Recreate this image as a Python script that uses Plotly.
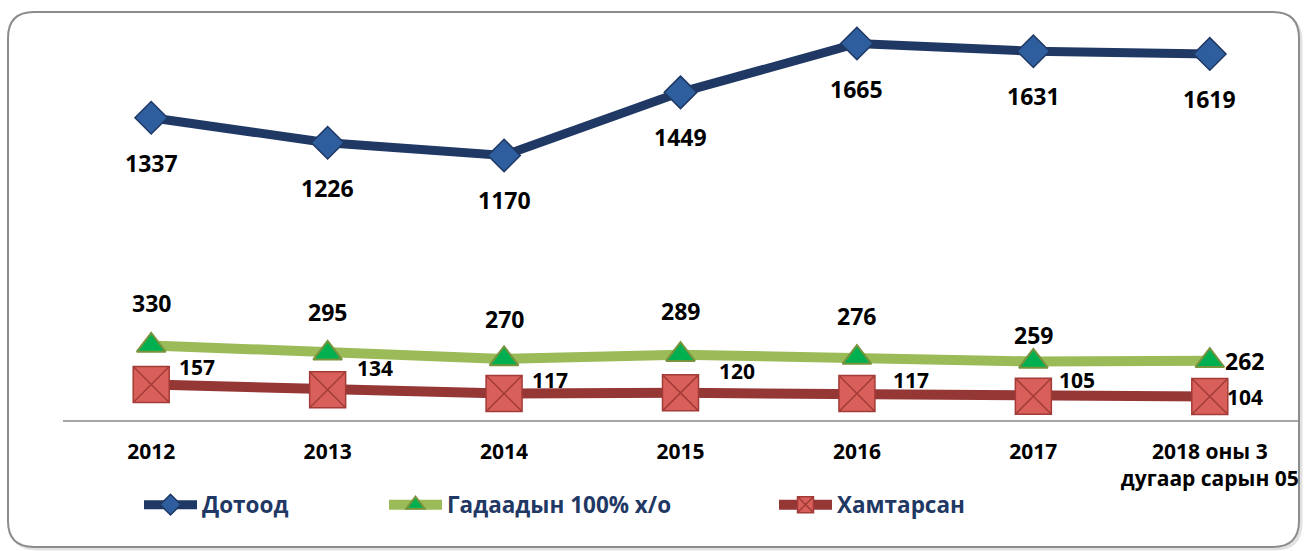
import plotly.graph_objects as go

categories = ["2012", "2013", "2014", "2015", "2016", "2017", "2018 оны 3<br>дугаар сарын 05"]
dotood = [1337, 1226, 1170, 1449, 1665, 1631, 1619]
gadaad = [330, 295, 270, 289, 276, 259, 262]
hamtarsan = [157, 134, 117, 120, 117, 105, 104]
series_names = ["Дотоод", "Гадаадын 100% х/о", "Хамтарсан"]

# label offsets (pixels: dx right, dy up)
dotood_off = [(0, -45)] * 7
gadaad_off = [(0, 42), (0, 41), (0, 40), (0, 44), (0, 42), (0, 26), (35, 0)]
ham_off = [(46, 18), (47, 22), (46, 14), (56, 22), (54, 14), (44, 16), (35, -1)]

W, H = 1304, 551
L, R, T, B = 63, 6, 13, 131
PW, PH = W - L - R, H - T - B

def px(x):
    return (x - L) / PW

def py(y):
    return (H - B - y) / PH

FONT = "Open Sans"
NAVY = "#1F3864"

fig = go.Figure()
fig.add_trace(go.Scatter(
    x=categories, y=dotood, name=series_names[0], mode="lines+markers",
    line=dict(color=NAVY, width=9),
    marker=dict(symbol="diamond", size=25, color="#2E5E9E", line=dict(color="#1F3864", width=1.5)),
    legend="legend", showlegend=True))
fig.add_trace(go.Scatter(
    x=categories, y=gadaad, name=series_names[1], mode="lines+markers",
    line=dict(color="#9BBB59", width=10),
    marker=dict(symbol="triangle-up", size=25, color="#00B050", line=dict(color="#77933C", width=2)),
    legend="legend2", showlegend=True))
fig.add_trace(go.Scatter(
    x=categories, y=hamtarsan, name=series_names[2], mode="lines+markers",
    line=dict(color="#953735", width=10),
    marker=dict(symbol="square-x", size=36, color="#D9605A", line=dict(color="#A33B38", width=1.5)),
    legend="legend3", showlegend=True))

anns = []
for vals, offs, fs in [(dotood, dotood_off, 23), (gadaad, gadaad_off, 23), (hamtarsan, ham_off, 21)]:
    for i, (v, (dx, dy)) in enumerate(zip(vals, offs)):
        anns.append(dict(x=i, y=v, xref="x", yref="y", text=f"<b>{v}</b>", showarrow=False,
                         xshift=dx, yshift=dy, font=dict(family=FONT, size=fs, color="black")))

def rounded(x0, y0, x1, y1, r):
    return (f"M {px(x0 + r)},{py(y0)} L {px(x1 - r)},{py(y0)} Q {px(x1)},{py(y0)} {px(x1)},{py(y0 + r)} "
            f"L {px(x1)},{py(y1 - r)} Q {px(x1)},{py(y1)} {px(x1 - r)},{py(y1)} "
            f"L {px(x0 + r)},{py(y1)} Q {px(x0)},{py(y1)} {px(x0)},{py(y1 - r)} "
            f"L {px(x0)},{py(y0 + r)} Q {px(x0)},{py(y0)} {px(x0 + r)},{py(y0)} Z")

shapes = [
    dict(type="path", xref="paper", yref="paper", path=rounded(11, 15, 1301, 549, 26),
         line=dict(color="#E2E2E2", width=3), layer="below"),
    dict(type="path", xref="paper", yref="paper", path=rounded(8, 12, 1299, 547, 26),
         line=dict(color="#8C8C8C", width=2), fillcolor="white", layer="below"),
]

leg_common = dict(orientation="h", xanchor="left", yanchor="middle", bgcolor="rgba(0,0,0,0)",
                  font=dict(family=FONT, size=22.5, color=NAVY, weight="bold"), itemwidth=53)

fig.update_layout(
    width=W, height=H, showlegend=True,
    margin=dict(l=L, r=R, t=T, b=B, autoexpand=False),
    paper_bgcolor="white", plot_bgcolor="rgba(0,0,0,0)",
    xaxis=dict(type="category", range=[-0.5, 6.5], showgrid=False, zeroline=False,
               showline=True, linecolor="#A6A6A6", linewidth=1.5, ticks="", ticklabelstandoff=12,
               tickfont=dict(family=FONT, size=21, color="black", weight="bold")),
    yaxis=dict(range=[0, 1800], visible=False, showgrid=False, zeroline=False),
    annotations=anns, shapes=shapes,
    legend=dict(x=px(139), y=py(505), **leg_common),
    legend2=dict(x=px(384), y=py(505), **leg_common),
    legend3=dict(x=px(774), y=py(505), **leg_common),
)
fig.write_html("out.html", config={"displayModeBar": False},
               post_script="document.body.style.margin='0';")
